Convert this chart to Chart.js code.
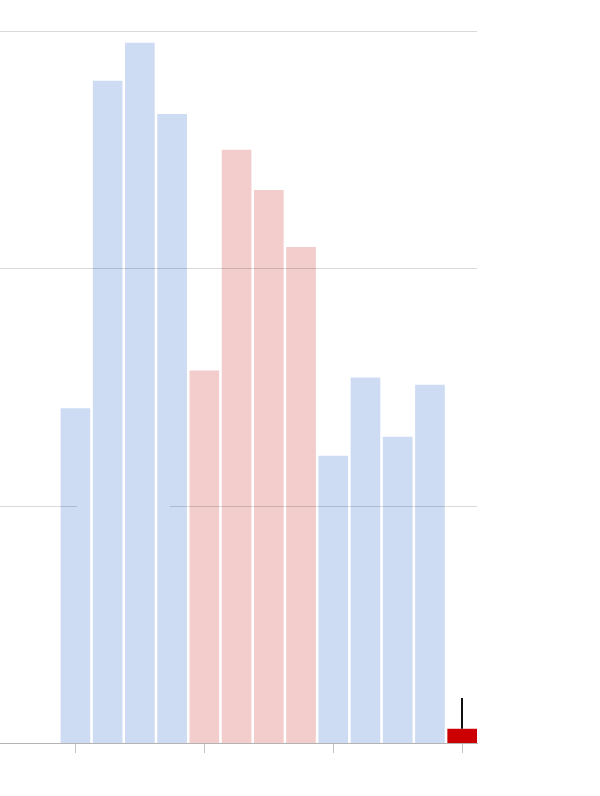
<!DOCTYPE html>
<html>
<head>
<meta charset="utf-8">
<script src="https://cdn.jsdelivr.net/npm/chart.js@4"></script>
<style>
  html, body { margin: 0; padding: 0; background: #fff; }
  #wrap { width: 600px; height: 796px; }
</style>
</head>
<body>
<div id="wrap"><canvas id="c"></canvas></div>
<script>
// data
const positions = [1, 2, 3, 4, 5, 6, 7, 8, 9, 10, 11, 12, 13];
const values = [141, 279, 295, 265, 157, 250, 233, 209, 121, 154, 129, 151, 6];
const groups = ['a', 'a', 'a', 'a', 'b', 'b', 'b', 'b', 'a', 'a', 'a', 'a', 'c'];
const errHigh = [null, null, null, null, null, null, null, null, null, null, null, null, 19];
const xTicks = [1, 5, 9, 13];
const yGrid = [100, 200, 300];
const gridGap = { value: 100, from: 1.05, to: 3.93 }; // the line at 100 is broken there

const groupColors = { a: '#cddbf3', b: '#f3cccc', c: '#cc0000' };

// grid lines drawn above the bars, plus the error whisker
const overlay = {
    id: 'overlay',
    afterDatasetsDraw(chart) {
        const { ctx, chartArea: ca, scales: { x, y } } = chart;
        ctx.save();
        ctx.strokeStyle = 'rgba(0,0,0,0.15)';
        ctx.lineWidth = 1;
        for (const v of yGrid) {
            const py = Math.round(y.getPixelForValue(v)) + 0.5;
            ctx.beginPath();
            if (v === gridGap.value) {
                ctx.moveTo(ca.left, py); ctx.lineTo(x.getPixelForValue(gridGap.from), py);
                ctx.moveTo(x.getPixelForValue(gridGap.to), py); ctx.lineTo(ca.right, py);
            } else {
                ctx.moveTo(ca.left, py); ctx.lineTo(ca.right, py);
            }
            ctx.stroke();
        }
        ctx.strokeStyle = '#111';
        ctx.lineWidth = 2;
        errHigh.forEach((e, i) => {
            if (e == null) return;
            const px = Math.round(x.getPixelForValue(positions[i]));
            ctx.beginPath();
            ctx.moveTo(px, y.getPixelForValue(values[i]));
            ctx.lineTo(px, y.getPixelForValue(e));
            ctx.stroke();
        });
        ctx.restore();
    }
};

new Chart(document.getElementById('c'), {
    type: 'bar',
    data: {
        datasets: [{
            data: positions.map((p, i) => ({ x: p, y: values[i] })),
            backgroundColor: groups.map(g => groupColors[g]),
            borderWidth: 0,
            barPercentage: 0.92,
            categoryPercentage: 1
        }]
    },
    options: {
        responsive: true,
        maintainAspectRatio: false,
        animation: false,
        layout: { padding: { left: 0, right: 123, top: 31, bottom: 43 } },
        plugins: { legend: { display: false }, tooltip: { enabled: false } },
        scales: {
            x: {
                type: 'linear',
                offset: false,
                min: -1.34,
                max: 13.46,
                afterBuildTicks: s => { s.ticks = xTicks.map(v => ({ value: v })); },
                ticks: { display: false },
                grid: { offset: false, drawOnChartArea: false, drawTicks: true, tickLength: 10, color: '#c4c4c4' },
                border: { color: '#b4b4b4', width: 1 }
            },
            y: {
                display: false,
                min: 0,
                max: 300
            }
        }
    },
    plugins: [overlay]
});
</script>
</body>
</html>
